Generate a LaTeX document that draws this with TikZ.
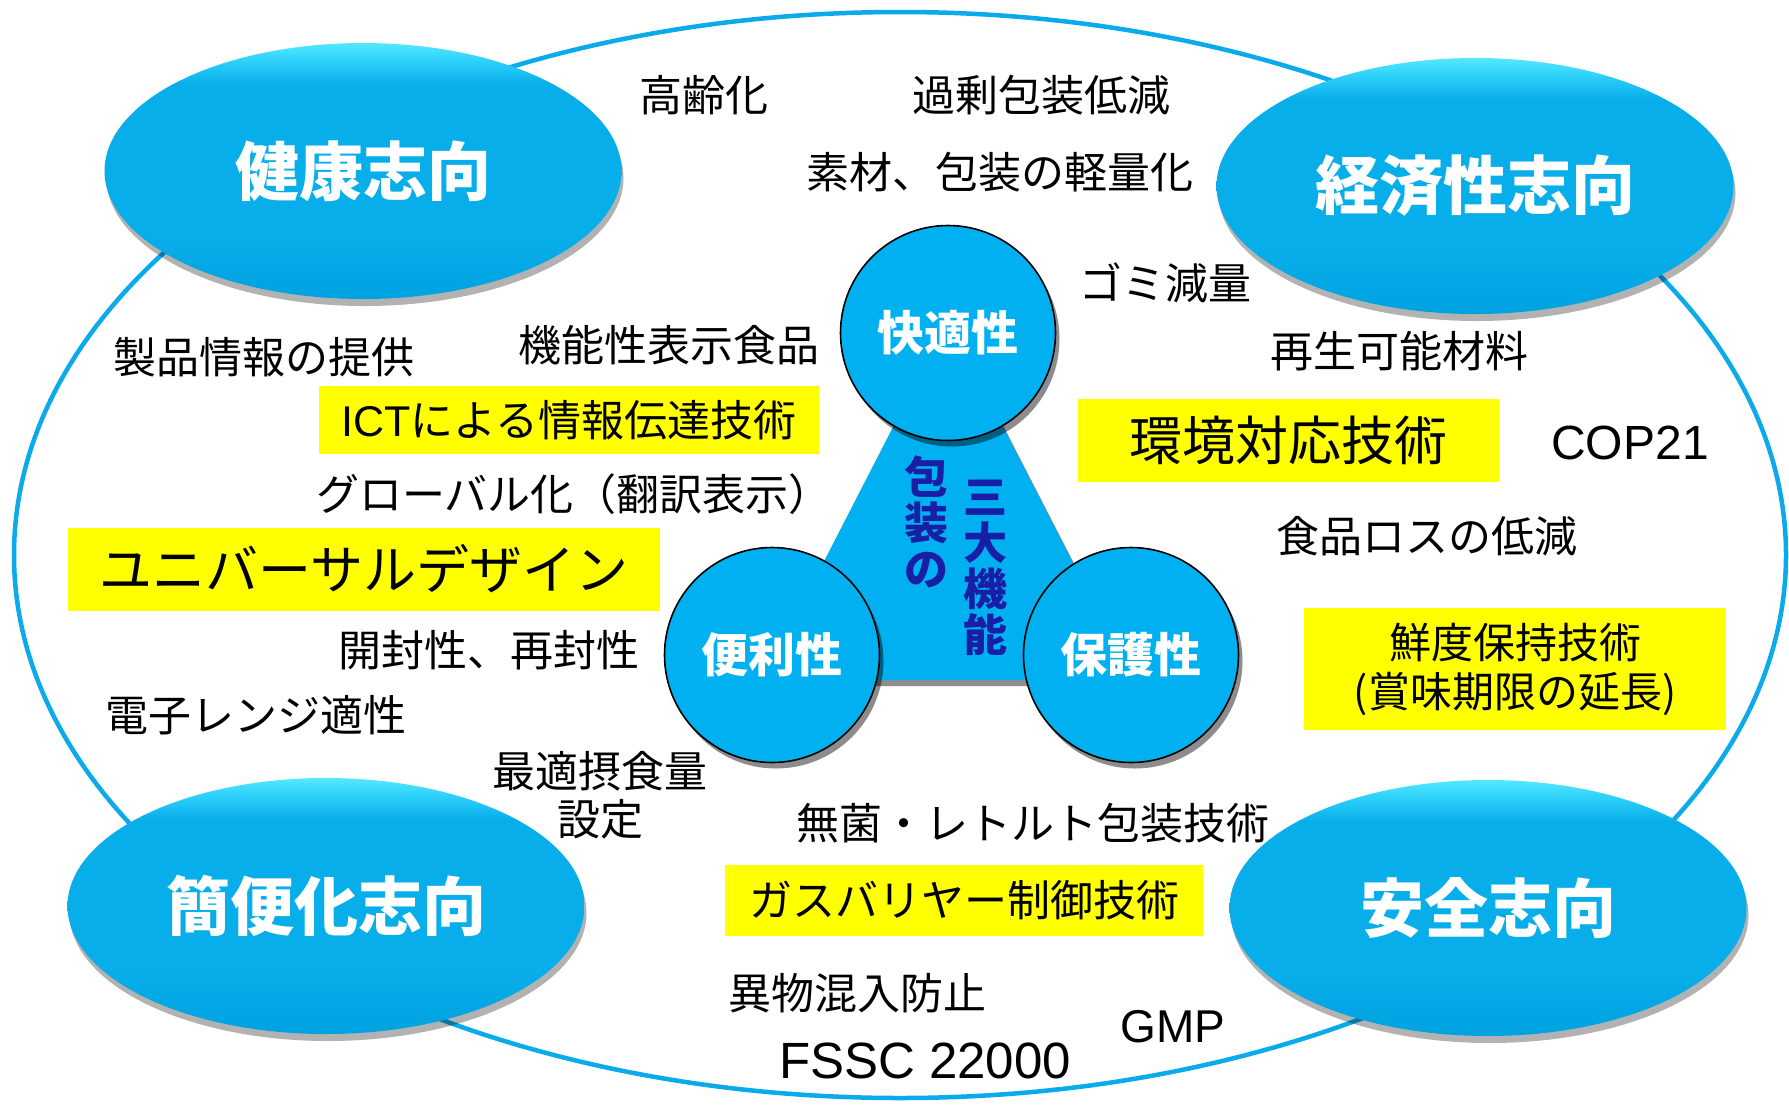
\documentclass[tikz,border=0pt]{standalone}
\usepackage{fontspec}
\setmainfont{Noto Sans CJK JP}
\newfontfamily\lat{Liberation Sans}
\usetikzlibrary{shapes.geometric,shadows}
\definecolor{cy}{RGB}{0,176,240}
\definecolor{cyell}{RGB}{8,174,234}
\definecolor{cyline}{RGB}{10,170,235}
\definecolor{cyrim}{RGB}{50,212,252}
\definecolor{cytop}{RGB}{85,232,255}
\definecolor{cybot}{RGB}{0,162,224}
\definecolor{navyt}{RGB}{24,30,165}
\definecolor{ybg}{RGB}{255,255,0}
\pgfdeclareverticalshading{ellsh}{100bp}{color(0bp)=(cybot); color(25bp)=(cybot); color(38bp)=(cyell); color(67bp)=(cyell); color(72bp)=(cyrim); color(75bp)=(cytop); color(100bp)=(cytop)}
\newcommand{\fs}[2]{\fontsize{#1}{#2}\selectfont}
\begin{document}
\begin{tikzpicture}[x=1pt,y=-1pt,
  lbl/.style={inner sep=0pt, font=\fs{43}{50}, text=black},
  ybox/.style={fill=ybg, inner sep=0pt, font=\fs{43}{50}, text=black},
  bigell/.style={ellipse, inner sep=0pt, minimum width=517pt, minimum height=256pt,
    shading=ellsh,
    drop shadow={shadow xshift=2pt, shadow yshift=-7pt, opacity=0.3, fill=black},
    text=white, font=\fs{64}{70}\bfseries},
  func/.style={circle, draw=black, line width=1.6pt, fill=cy, minimum size=215pt, inner sep=0pt,
    drop shadow={shadow xshift=4pt, shadow yshift=-6pt, opacity=0.45, fill=black},
    text=white, font=\fs{47}{52}\bfseries},
  tri/.style={fill=cy, drop shadow={shadow xshift=4pt, shadow yshift=-6pt, opacity=0.45, fill=black}},
  vtxt/.style={align=center, inner sep=0pt, text=navyt, font=\fs{44}{46}\bfseries},
  outer/.style={draw=cyline, line width=4.5pt}
]
\useasboundingbox (0,0) rectangle (1789,1104);
\fill[white] (0,0) rectangle (1789,1104);

% outer ellipse
\draw[outer] (900,555) ellipse [x radius=886, y radius=543];

% corner ellipses
\node[bigell] (kenko) at (363,171) {健康志向};
\node[bigell] (keizai) at (1475,186) {経済性志向};
\node[bigell] (kanben) at (326,906) {簡便化志向};
\node[bigell] (anzen) at (1488,908) {安全志向};

% yellow boxes
\node[ybox, minimum width=500pt, minimum height=68pt] (ict) at (569,420) {{\lat ICT}による情報伝達技術};
\node[ybox, font=\fs{53}{60}, minimum width=421pt, minimum height=83pt] (env) at (1288,440) {環境対応技術};
\node[ybox, font=\fs{53}{60}, minimum width=592pt, minimum height=83pt] (ud) at (364,569) {ユニバーサルデザイン};
\node[ybox, font=\fs{42}{49}, align=center, minimum width=422pt, minimum height=122pt] (fresh) at (1515,669) {鮮度保持技術\\(賞味期限の延長)};
\node[ybox, minimum width=478pt, minimum height=71pt] (gas) at (964,900) {ガスバリヤー制御技術};

% plain labels
\node[lbl] (t1) at (704,95) {高齢化};
\node[lbl] (t2) at (1041,95) {過剰包装低減};
\node[lbl] (t3) at (1000,172) {素材、包装の軽量化};
\node[lbl] (t4) at (1165,283) {ゴミ減量};
\node[lbl] (t5) at (1399,351) {再生可能材料};
\node[lbl] (t6) at (669,345) {機能性表示食品};
\node[lbl] (t7) at (264,357) {製品情報の提供};
\node[lbl, font=\lat\fs{48}{55}] (t8) at (1630,443) {COP21};
\node[lbl] (t9) at (574,494) {グローバル化（翻訳表示）};
\node[lbl] (t10) at (1427,536) {食品ロスの低減};
\node[lbl] (t11) at (489,650) {開封性、再封性};
\node[lbl] (t12) at (256,715) {電子レンジ適性};
\node[lbl, align=center, font=\fs{43}{48}] (t13) at (600,795) {最適摂食量\\設定};
\node[lbl] (t14) at (1033,823) {無菌・レトルト包装技術};
\node[lbl] (t15) at (857,993) {異物混入防止};
\node[lbl, font=\lat\fs{46}{52}] (t16) at (1173,1027) {GMP};
\node[lbl, font=\lat\fs{51}{58}] (t17) at (925,1061) {FSSC 22000};

% triangle of the three functions
\path[tri] (948,320) -- (763,680) -- (1133,680) -- cycle;
\node[vtxt] (hoso) at (926,522) {包\\装\\の};
\node[vtxt] (sandai) at (985,568) {三\\大\\機\\能};

% function circles
\node[func] (kai) at (948,333) {快適性};
\node[func] (ben) at (772,655) {便利性};
\node[func] (ho) at (1131,655) {保護性};
\end{tikzpicture}
\end{document}
